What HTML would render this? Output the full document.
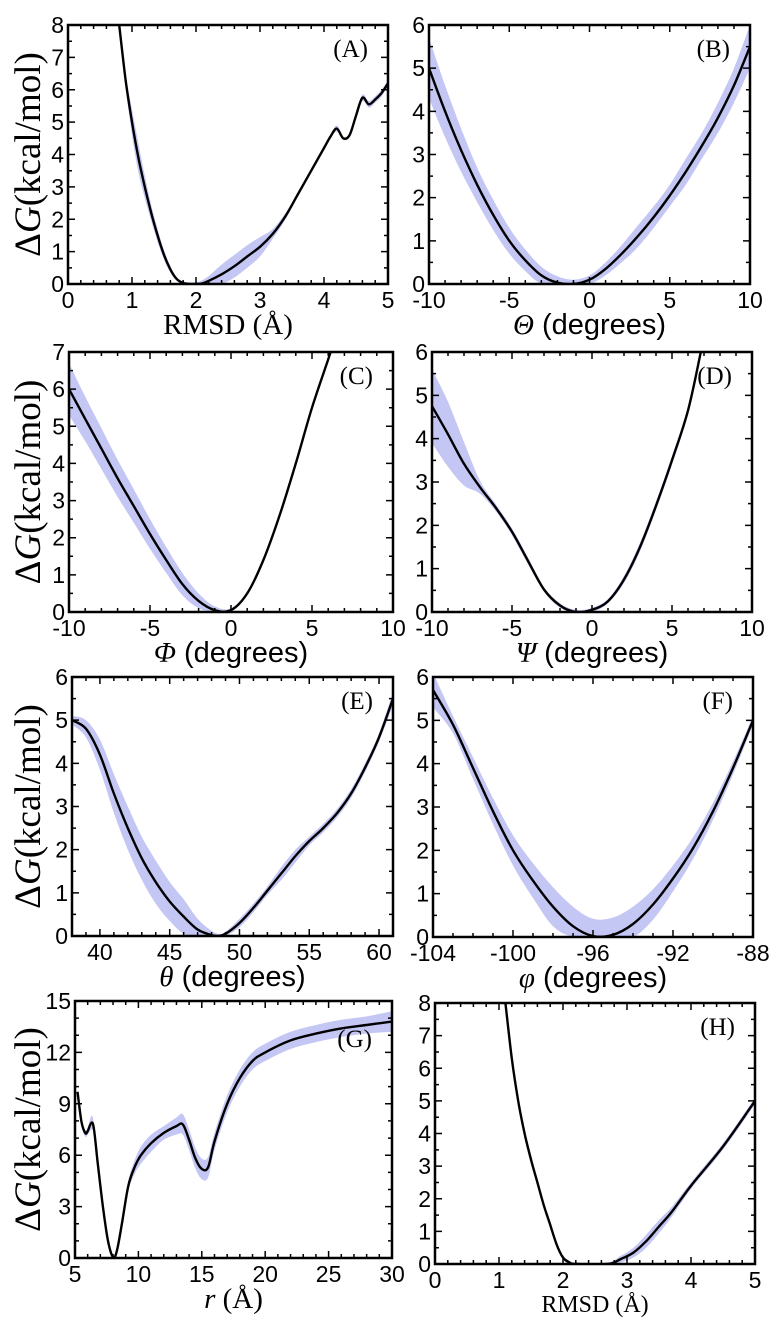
<!DOCTYPE html>
<html><head><meta charset="utf-8"><style>
html,body{margin:0;padding:0;background:#fff;}
svg{display:block;}
</style></head><body>
<svg id="fig" width="778" height="1327" viewBox="0 0 778 1327" xmlns="http://www.w3.org/2000/svg"></svg>
<script>
// Panel A
const aX=[0.8,0.9,1.0,1.1,1.2,1.3,1.4,1.5,1.6,1.7,1.8,1.9,2.0,2.1,2.2,2.4,2.6,2.8,3.0,3.2,3.4,3.6,3.8,4.0,4.1,4.2,4.3,4.4,4.5,4.6,4.7,4.8,4.9,5.0];
const aY=[8,6.3,5.0,3.9,3.0,2.2,1.5,0.9,0.45,0.15,0.03,0,0,0.02,0.1,0.3,0.55,0.85,1.15,1.55,2.1,2.8,3.5,4.2,4.55,4.8,4.5,4.6,5.2,5.75,5.55,5.7,5.9,6.2];
const aErr=[0.1,0.2,0.4,0.45,0.35,0.25,0.2,0.15,0.1,0.05,0.05,0.05,0.05,0.1,0.15,0.3,0.35,0.35,0.3,0.15,0.1,0.05,0.05,0.05,0.05,0.1,0.05,0.05,0.05,0.1,0.1,0.1,0.1,0.1];
// Panel B
const bX=[-10,-9,-8,-7,-6,-5,-4,-3,-2,-1,0,1,2,3,4,5,6,7,8,9,10];
const bY=[5.0,4.0,3.1,2.3,1.6,1.0,0.55,0.2,0.03,0,0.1,0.35,0.7,1.1,1.55,2.05,2.6,3.2,3.85,4.6,5.5];
const bErr=[0.7,0.6,0.5,0.4,0.35,0.3,0.25,0.2,0.15,0.1,0.1,0.15,0.2,0.25,0.25,0.25,0.3,0.3,0.35,0.4,0.5];
// Panel C
const cX=[-10,-9,-8,-7,-6,-5,-4,-3,-2,-1,0,1,2,3,4,5,6,6.3];
const cY=[6.0,5.2,4.4,3.6,2.85,2.1,1.4,0.75,0.3,0.05,0.05,0.5,1.4,2.6,4.0,5.5,6.8,7.2];
const cErr=[0.7,0.6,0.55,0.5,0.45,0.4,0.35,0.3,0.2,0.1,0.05,0.05,0.05,0.05,0.05,0.05,0.05,0.05];
// Panel D
const dX=[-10,-9,-8,-7,-6,-5,-4,-3,-2,-1,0,1,2,3,4,5,6,6.8];
const dY=[4.75,4.1,3.42,2.88,2.4,1.85,1.18,0.52,0.15,0,0.05,0.25,0.75,1.5,2.45,3.5,4.65,6.0];
const dErr=[0.85,0.75,0.5,0.15,0.08,0.08,0.08,0.05,0.05,0.05,0.05,0.05,0.08,0.1,0.1,0.1,0.1,0.1];
// Panel E
const eX=[38,39,40,41,42,43,44,45,46,47,48,48.5,49,50,51,52,53,54,55,56,57,58,59,60,61];
const eY=[5.0,4.8,4.2,3.3,2.5,1.8,1.25,0.8,0.45,0.15,0.02,0,0.05,0.3,0.65,1.05,1.45,1.85,2.2,2.5,2.85,3.3,3.9,4.6,5.5];
const eErr=[0.1,0.2,0.35,0.45,0.5,0.5,0.5,0.45,0.4,0.25,0.1,0.05,0.05,0.1,0.1,0.1,0.15,0.15,0.1,0.1,0.1,0.1,0.1,0.1,0.15];
// Panel F
const fX=[-104,-103,-102,-101,-100,-99,-98,-97,-96,-95,-94,-93,-92,-91,-90,-89,-88];
const fY=[5.7,4.9,3.9,2.9,2.0,1.3,0.7,0.25,0.02,0.05,0.3,0.75,1.35,2.05,2.9,3.9,5.0];
const fErr=[0.4,0.2,0.25,0.3,0.35,0.4,0.45,0.45,0.4,0.4,0.4,0.35,0.3,0.25,0.2,0.15,0.1];
// Panel G
const gX=[5.2,5.5,5.8,6.0,6.3,6.5,6.8,7.2,7.6,8.0,8.3,8.7,9.2,9.7,10.2,11,12,13,13.5,14,14.5,15,15.5,16,17,18,19,20,22,24,26,28,30];
const gY=[9.7,8.0,7.3,7.4,7.9,7.5,5.5,3.0,1.0,0.05,0.4,2.0,4.2,5.3,6.0,6.7,7.3,7.7,7.8,6.9,5.8,5.2,5.3,6.8,9.0,10.5,11.5,12.0,12.7,13.1,13.4,13.6,13.8];
const gErr=[0.1,0.2,0.2,0.2,0.4,0.3,0.2,0.1,0.1,0.05,0.1,0.2,0.3,0.4,0.5,0.5,0.4,0.5,0.6,0.6,0.6,0.6,0.6,0.5,0.5,0.5,0.5,0.5,0.5,0.5,0.5,0.5,0.6];
// Panel H
const hX=[1.1,1.2,1.3,1.4,1.5,1.6,1.7,1.8,1.9,2.0,2.1,2.2,2.7,2.9,3.1,3.3,3.5,3.7,4.0,4.5,5.0];
const hY=[8,6.3,5.0,4.0,3.2,2.5,1.8,1.2,0.6,0.2,0.05,0,0,0.15,0.35,0.7,1.15,1.6,2.4,3.6,5.0];
const hErr=[0.05,0.1,0.15,0.15,0.15,0.1,0.1,0.1,0.05,0.05,0.05,0.05,0.05,0.1,0.15,0.2,0.2,0.15,0.1,0.1,0.1];

const xTicksA=[0,1,2,3,4,5], yTicksA=[0,1,2,3,4,5,6,7,8];
const xTicksPM=[-10,-5,0,5,10], yTicks6=[0,1,2,3,4,5,6], yTicks7=[0,1,2,3,4,5,6,7];
const xTicksE=[40,45,50,55,60], xTicksF=[-104,-100,-96,-92,-88];
const xTicksG=[5,10,15,20,25,30], yTicksG=[0,3,6,9,12,15];

const NS="http://www.w3.org/2000/svg";
const svg=document.getElementById('fig');
function mk(tag,attrs,parent){const e=document.createElementNS(NS,tag);for(const k in attrs)e.setAttribute(k,attrs[k]);(parent||svg).appendChild(e);return e;}
function smooth(pts){
 let d=`M${pts[0][0].toFixed(1)},${pts[0][1].toFixed(1)}`;
 for(let i=0;i<pts.length-1;i++){
  const p0=pts[Math.max(0,i-1)],p1=pts[i],p2=pts[i+1],p3=pts[Math.min(pts.length-1,i+2)];
  const c1=[p1[0]+(p2[0]-p0[0])/6,p1[1]+(p2[1]-p0[1])/6];
  const c2=[p2[0]-(p3[0]-p1[0])/6,p2[1]-(p3[1]-p1[1])/6];
  d+=`C${c1[0].toFixed(1)},${c1[1].toFixed(1)} ${c2[0].toFixed(1)},${c2[1].toFixed(1)} ${p2[0].toFixed(1)},${p2[1].toFixed(1)}`;
 }
 return d;
}

const panels=[
 {id:'a',L:68,R:388,T:25,B:284,xd:[0,5],yd:[0,8],xt:xTicksA,yt:yTicksA,xm:5,ym:2,X:aX,Y:aY,E:aErr,lab:'(A)',xl:[['RMSD (Å)','serif','']],left:true},
 {id:'b',L:429,R:750,T:25,B:284,xd:[-10,10],yd:[0,6],xt:xTicksPM,yt:yTicks6,xm:5,ym:2,X:bX,Y:bY,E:bErr,lab:'(B)',xl:[['Θ','serif','italic'],[' (degrees)','sans','']]},
 {id:'c',L:69,R:393,T:352,B:612,xd:[-10,10],yd:[0,7],xt:xTicksPM,yt:yTicks7,xm:5,ym:2,X:cX,Y:cY,E:cErr,lab:'(C)',xl:[['Φ','serif','italic'],[' (degrees)','sans','']],left:true},
 {id:'d',L:432,R:752,T:352,B:612,xd:[-10,10],yd:[0,6],xt:xTicksPM,yt:yTicks6,xm:5,ym:2,X:dX,Y:dY,E:dErr,lab:'(D)',xl:[['Ψ','serif','italic'],[' (degrees)','sans','']]},
 {id:'e',L:72,R:393,T:677,B:936,xd:[38,61],yd:[0,6],xt:xTicksE,yt:yTicks6,xm:5,ym:2,X:eX,Y:eY,E:eErr,lab:'(E)',xl:[['θ','serif','italic'],[' (degrees)','sans','']],left:true},
 {id:'f',L:433,R:753,T:677,B:937,xd:[-104,-88],yd:[0,6],xt:xTicksF,yt:yTicks6,xm:4,ym:2,X:fX,Y:fY,E:fErr,lab:'(F)',xl:[['φ','serif','italic'],[' (degrees)','sans','']]},
 {id:'g',L:75,R:392,T:1001,B:1258,xd:[5,30],yd:[0,15],xt:xTicksG,yt:yTicksG,xm:5,ym:3,X:gX,Y:gY,E:gErr,lab:'(G)',labY:1047,xl:[['r','serif','italic'],[' (Å)','serif','']],left:true},
 {id:'h',L:435,R:755,T:1003,B:1264,xd:[0,5],yd:[0,8],xt:xTicksA,yt:yTicksA,xm:5,ym:2,X:hX,Y:hY,E:hErr,lab:'(H)',xl:[['RMSD (Å)','serif','']],small:true},
];
const fam={serif:'"Liberation Serif",serif',sans:'"Liberation Sans",sans-serif'};

panels.forEach(p=>{
 const g=mk('g',{});
 
 
 const sx=v=>p.L+(v-p.xd[0])/(p.xd[1]-p.xd[0])*(p.R-p.L);
 const sy=v=>p.B-(v-p.yd[0])/(p.yd[1]-p.yd[0])*(p.B-p.T);
 const cp='clip-'+p.id;
 const cl=mk('clipPath',{id:cp},g);mk('rect',{x:p.L,y:p.T,width:p.R-p.L,height:p.B-p.T},cl);
 const up=p.X.map((x,i)=>[sx(x),sy(p.Y[i]+p.E[i])]);
 const dn=p.X.map((x,i)=>[sx(x),sy(Math.max(0,p.Y[i]-p.E[i]))]).reverse();
 const band=mk('path',{d:smooth(up)+'L'+smooth(dn).slice(1)+'Z',fill:'#c4c6f4',stroke:'none','clip-path':'url(#'+cp+')'},g);
 
 
 const line=mk('path',{d:smooth(p.X.map((x,i)=>[sx(x),sy(p.Y[i])])),fill:'none',stroke:'#000','stroke-width':2.4,'stroke-linejoin':'round','clip-path':'url(#'+cp+')'},g);
 
 
 let d='';
 const st=(p.xt[1]-p.xt[0])/p.xm;
 for(let v=p.xt[0];v<=p.xd[1]+1e-9;v+=st){const x=sx(v);const maj=Math.abs((v-p.xt[0])/(p.xt[1]-p.xt[0])-Math.round((v-p.xt[0])/(p.xt[1]-p.xt[0])))<1e-6;const L=maj?7:4;d+=`M${x},${p.B}v-${L}M${x},${p.T}v${L}`;}
 for(let v=p.xt[0]-st;v>p.xd[0];v-=st){const x=sx(v);d+=`M${x},${p.B}v-4M${x},${p.T}v4`;}
 for(let i=0;i<p.yt.length;i++){
  const v=p.yt[i], y=sy(v);
  d+=`M${p.L},${y}h7M${p.R},${y}h-7`;
  if(i<p.yt.length-1){const s=(p.yt[i+1]-v)/p.ym;for(let k=1;k<p.ym;k++){const yy=sy(v+k*s);d+=`M${p.L},${yy}h4M${p.R},${yy}h-4`;}}
 }
 const tk=mk('path',{d:d,stroke:'#000','stroke-width':1.5,fill:'none'},g);
 
 
 const fr=mk('rect',{x:p.L,y:p.T,width:p.R-p.L,height:p.B-p.T,fill:'none',stroke:'#000','stroke-width':2.5},g);
 
 
 p.xt.forEach(v=>{
  const t=mk('text',{x:sx(v),y:p.B+24,'text-anchor':'middle','font-family':fam.sans,'font-size':23},g);t.textContent=v;
  
  
 });
 p.yt.forEach(v=>{
  const t=mk('text',{x:p.L-4,y:sy(v)+8,'text-anchor':'end','font-family':fam.sans,'font-size':23},g);t.textContent=v;
  
  
 });
 const lb=mk('text',{x:p.R-20,y:p.labY||p.T+32,'text-anchor':'end','font-family':fam.serif,'font-size':25},g);lb.textContent=p.lab;
 
 
 const xt=mk('text',{x:(p.L+p.R)/2,y:p.B+(p.small?48:50),'text-anchor':'middle','font-size':p.small?24:29},g);
 
 
 p.xl.forEach(s=>{const ts=mk('tspan',{'font-family':fam[s[1]],'font-style':s[2]||'normal'},xt);ts.textContent=s[0];});
 if(p.left){
  const cy=(p.T+p.B)/2;
  const yt=mk('text',{x:0,y:0,transform:`translate(40,${cy}) rotate(-90)`,'text-anchor':'middle','font-family':fam.serif,'font-size':37},g);
  
  
  const a=mk('tspan',{},yt);a.textContent='Δ';
  const b=mk('tspan',{'font-style':'italic'},yt);b.textContent='G';
  const c=mk('tspan',{},yt);c.textContent='(kcal/mol)';
 }
});
</script>
</body></html>
